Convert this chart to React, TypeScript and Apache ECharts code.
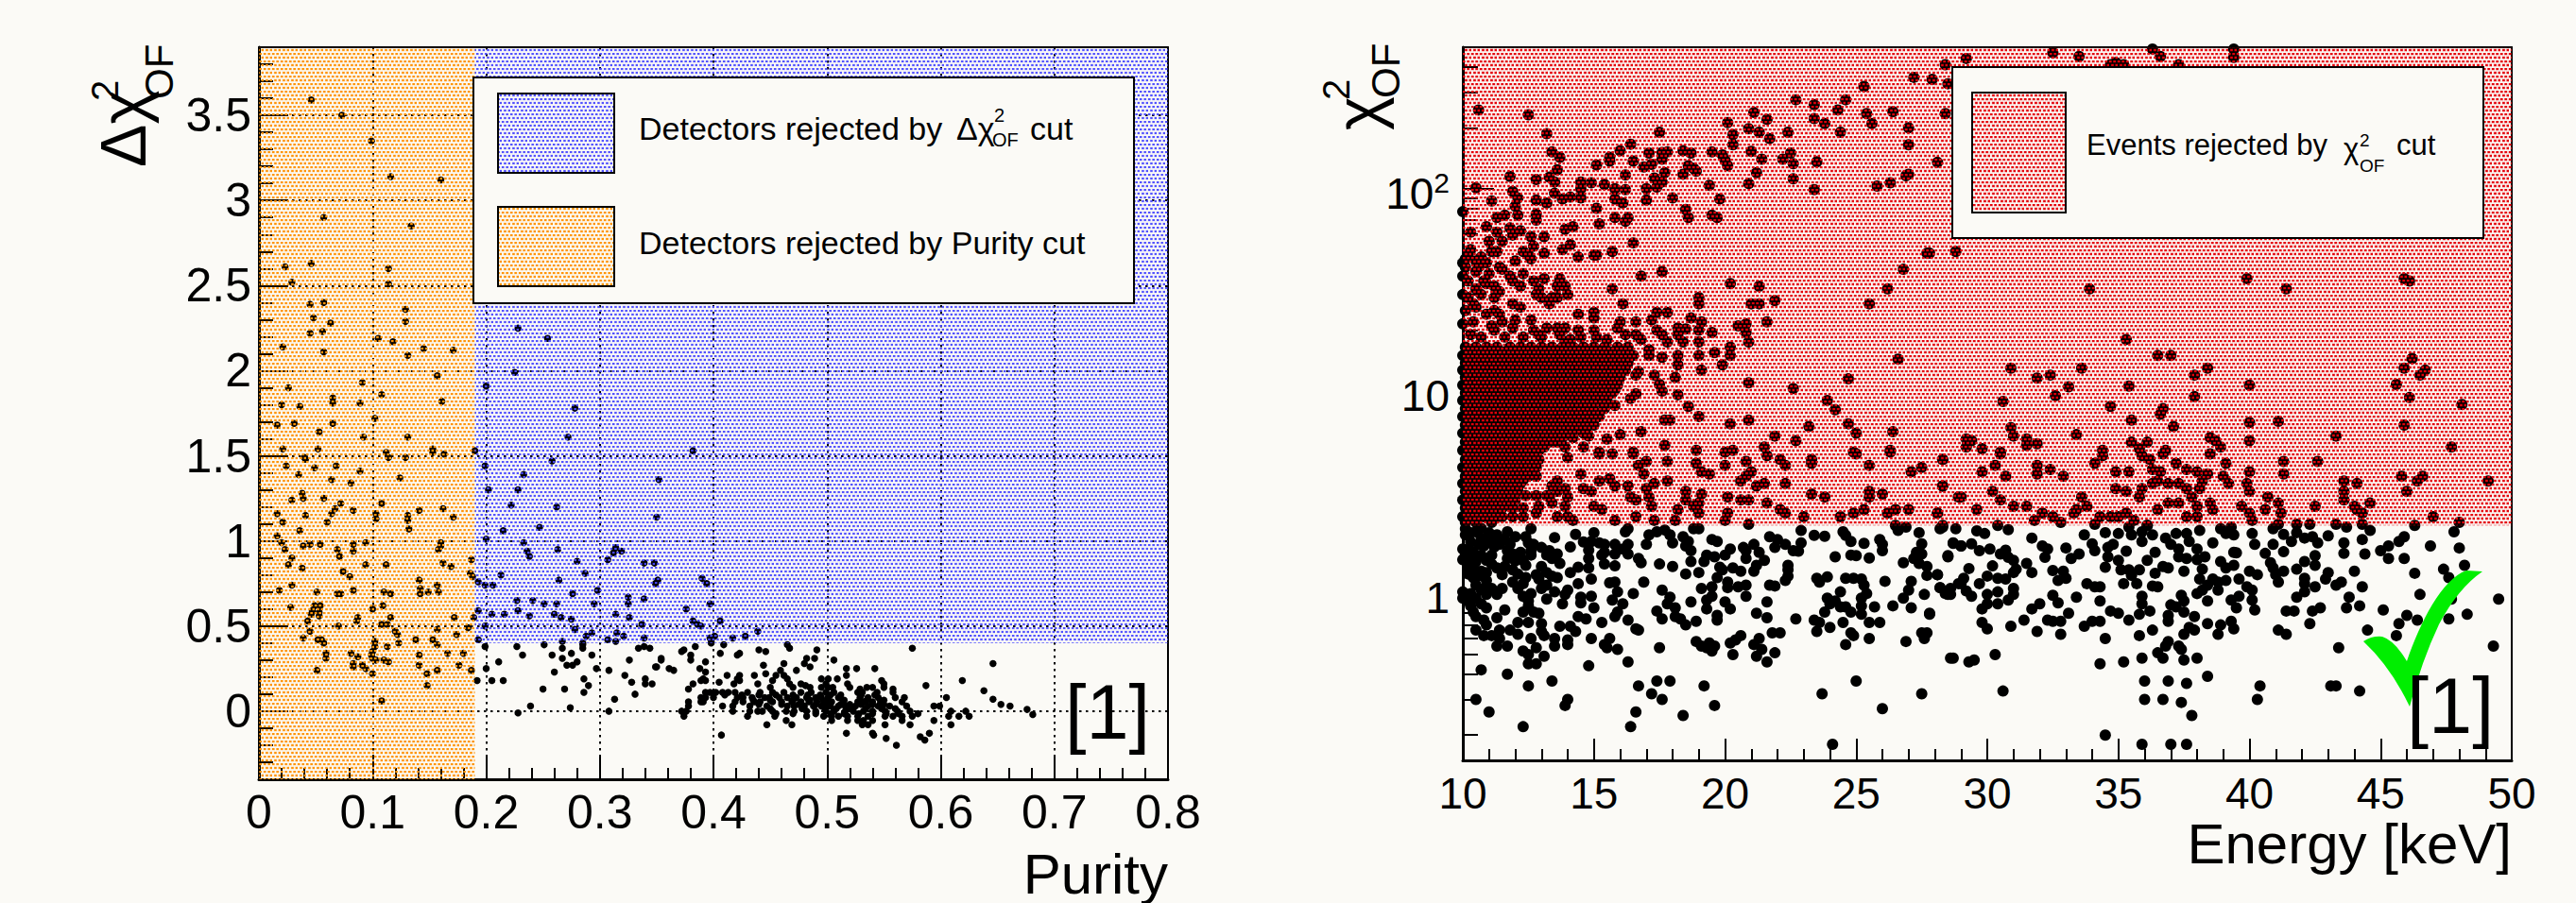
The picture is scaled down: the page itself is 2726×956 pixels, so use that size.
import React, { useEffect, useRef } from "react";
import * as echarts from "echarts";

const FONT = "Liberation Sans";
const PAGE = "#fbfaf6";

// ---------- left panel: purity / delta chi2 ----------
const purityTicks = [0, 0.5, 1, 1.5, 2, 2.5, 3, 3.5];
const orangeRegion = [[0, -0.4, 0.19, 3.9]];
const blueRegion = [[0.19, 0.4, 0.8, 3.9]];

const detectorsOrange = [[.046,3.59],[.073,3.5],[.099,3.35],[.116,3.14],[.16,3.12],[.057,2.9],[.134,2.85],[.023,2.61],[.046,2.63],[.114,2.6],[.029,2.52],[.114,2.51],[.045,2.39],[.057,2.4],[.129,2.36],[.048,2.31],[.129,2.29],[.063,2.28],[.056,2.23],[.045,2.22],[.105,2.19],[.118,2.17],[.021,2.14],[.145,2.13],[.171,2.12],[.057,2.11],[.131,2.09],[.157,1.97],[.091,1.93],[.026,1.9],[.108,1.86],[.065,1.84],[.065,1.81],[.089,1.81],[.02,1.8],[.036,1.79],[.161,1.82],[.102,1.72],[.016,1.68],[.031,1.69],[.065,1.69],[.053,1.64],[.092,1.61],[.131,1.61],[.021,1.54],[.052,1.54],[.153,1.54],[.112,1.52],[.19,1.53],
[.04,1.49],[.041,1.48],[.024,1.44],[.035,1.39],[.049,1.43],[.068,1.44],[.089,1.41],[.064,1.36],[.081,1.34],[.124,1.37],[.114,1.49],[.129,1.49],[.153,1.52],[.163,1.51],[.038,1.28],[.039,1.25],[.029,1.24],[.057,1.25],[.072,1.22],[.108,1.22],[.067,1.19],[.064,1.16],[.083,1.18],[.141,1.18],[.162,1.19],[.016,1.16],[.041,1.15],[.103,1.16],[.103,1.13],[.131,1.15],[.131,1.12],[.171,1.14],[.06,1.11],[.021,1.11],[.132,1.07],[.036,1.06],[.016,1.03],[.02,.99],[.16,.99],[.094,.99],[.083,.98],[.039,.97],[.045,.98],[.054,.98],[.16,.97],[.158,.95],[.023,.95],[.069,.95],[.083,.94],[.071,.91],[.029,.9],[.026,.86],[.038,.84],[.112,.86],[.094,.86],[.162,.87],[.169,.85],[.187,.89],[.074,.82],[.08,.79],[.186,.81],[.188,.79],[.141,.77],[.157,.74],[.142,.72],[.029,.74],[.018,.71],[.051,.7],[.072,.69],[.069,.69],[.083,.71],[.11,.7],[.116,.69],[.142,.69],[.149,.7],[.158,.7],[.028,.61],[.049,.62],[.054,.62],[.047,.59],[.046,.57],[.053,.58],[.053,.56],[.109,.62],[.1,.6],[.116,.55],[.087,.55],[.086,.53],[.043,.53],[.108,.51],[.113,.51],[.07,.5],[.172,.55],[.189,.55],[.184,.49],[.157,.48],[.045,.47],[.12,.47],[.122,.45],[.174,.45],[.039,.43],[.052,.42],[.055,.42],[.057,.4],[.138,.42],[.153,.42],[.157,.39],[.102,.41],[.102,.38],[.123,.4],[.113,.38],[.1,.35],[.081,.34],[.099,.33],[.1,.31],[.059,.34],[.059,.31],[.087,.32],[.103,.3],[.11,.3],[.114,.29],[.141,.33],[.166,.34],[.18,.34],[.083,.28],[.083,.26],[.091,.27],[.094,.25],[.1,.22],[.051,.24],[.141,.27],[.176,.27],[.157,.24],[.148,.22],[.187,.24],[.148,.15],[.108,.06]];

const detectorsBlue = [[.228,2.25],[.254,2.19],[.225,1.99],[.2,1.91],[.278,1.78],[.272,1.61],[.199,1.44],[.258,1.47],[.233,1.39],[.352,1.36],[.202,1.3],[.228,1.3],[.222,1.21],[.262,1.2],[.35,1.14],[.215,1.06],[.247,1.08],[.2,1.01],[.233,.99],[.236,.94],[.238,.91],[.263,.95],[.314,.96],[.319,.94],[.312,.93],[.307,.89],[.28,.88],[.339,.87],[.348,.87],[.287,.81],[.213,.8],[.264,.77],[.351,.77],[.349,.75],[.193,.76],[.199,.74],[.206,.74],[.298,.71],[.276,.69],[.227,.65],[.241,.65],[.251,.63],[.262,.63],[.295,.63],[.325,.67],[.325,.63],[.339,.66],[.193,.59],[.205,.57],[.216,.57],[.228,.59],[.238,.56],[.26,.57],[.266,.55],[.275,.54],[.314,.57],[.326,.55],[.199,.5],[.278,.48],[.337,.51],[.315,.46],[.321,.44],[.293,.46],[.288,.44],[.193,.42],[.267,.41],[.285,.4],[.307,.42],[.314,.41],[.339,.43],[.382,1.53],[.39,.78],[.394,.75],[.397,.63],[.376,.6],[.406,.53],[.382,.53],[.386,.51],[.389,.5],[.401,.44],[.397,.43],[.398,.41],[.417,.43],[.428,.44],[.439,.47]];

const detectorsKept = [[.199,.38],[.227,.38],[.251,.39],[.267,.37],[.285,.39],[.285,.37],[.232,.33],[.258,.33],[.275,.34],[.293,.33],[.267,.31],[.211,.29],[.28,.29],[.271,.27],[.276,.27],[.2,.25],[.297,.25],[.26,.23],[.308,.24],[.192,.18],[.205,.18],[.215,.18],[.286,.19],[.29,.15],[.25,.13],[.269,.13],[.286,.11],[.239,.03],[.274,.02],[.228,-.01],[.308,0],[.313,.07],[.326,.3],[.322,.21],[.328,.17],[.331,.1],[.34,.19],[.34,.16],[.346,.16],[.334,.37],[.339,.38],[.344,.37],[.35,.26],[.354,.3],[.384,.38],[.374,.36],[.372,.35],[.38,.33],[.38,.3],[.354,.31],[.349,.26],[.361,.25],[.365,.24],[.388,.25],[.393,.29],[.393,.23],[.391,.19],[.389,.18],[.393,.18],[.382,.16],[.378,.13],[.398,.4],[.409,.39],[.406,.34],[.421,.33],[.423,.34],[.44,.36],[.446,.35],[.465,.39],[.467,.37],[.491,.36],[.575,.37],[.489,.31],[.482,.31],[.48,.28],[.506,.3],[.444,.27],[.462,.28],[.485,.26],[.473,.24],[.517,.25],[.526,.25],[.542,.25],[.446,.22],[.436,.21],[.412,.21],[.423,.21],[.421,.19],[.459,.24],[.462,.21],[.455,.21],[.418,.16],[.423,.18],[.405,.17],[.452,.18],[.465,.19],[.467,.16],[.439,.16],[.495,.19],[.501,.19],[.509,.19],[.517,.21],[.518,.16],[.477,.16],[.481,.15],[.499,.16],[.501,.14],[.548,.18],[.55,.16],[.54,.14],[.558,.13],[.587,.15],[.619,.18],[.529,.13],[.531,.11],[.646,.28],[.638,.12],[.646,.07],[.653,.04],[.661,.03],[.676,.01],[.681,-.02],[.407,-.14],[.517,-.13],[.54,-.13],[.541,-.14],[.582,-.15],[.59,-.13],[.586,-.17],[.552,-.16],[.561,-.2]];

const clusterRows: [number, number[]][] = [
  [.14, [.45,.47,.485,.495,.505,.52,.535,.55]],
  [.11, [.393,.397,.402,.408,.413,.419,.43,.441,.452,.462,.477,.486,.499,.506,.527,.544,.558]],
  [.095, [.41,.425,.44,.455,.47,.483,.494,.503,.512,.53,.542]],
  [.08, [.389,.393,.4,.421,.426,.434,.445,.449,.458,.465,.473,.482,.49,.495,.501,.51,.529,.536,.545,.56,.568,.605]],
  [.065, [.435,.45,.47,.485,.5,.515,.535,.55]],
  [.055, [.378,.389,.391,.419,.426,.436,.441,.452,.46,.469,.477,.484,.491,.497,.504,.514,.527,.532,.54,.547,.566]],
  [.04, [.44,.46,.475,.49,.5,.512,.52,.53,.54,.55]],
  [.03, [.378,.408,.417,.432,.447,.465,.471,.48,.488,.495,.503,.51,.516,.525,.536,.545,.555,.57,.594,.599]],
  [.015, [.45,.478,.498,.508,.52,.534,.548,.56]],
  [0, [.372,.376,.417,.432,.439,.443,.452,.464,.471,.482,.49,.499,.506,.516,.523,.532,.54,.551,.562,.573,.609,.622]],
  [-.015, [.455,.47,.49,.503,.515,.528,.54,.552,.563,.58]],
  [-.03, [.374,.43,.454,.482,.497,.504,.51,.518,.527,.536,.551,.558,.566,.575,.607,.616,.625]],
  [-.055, [.464,.504,.518,.527,.532,.54,.566,.594]],
  [-.08, [.447,.469,.531,.536,.551,.573,.609]],
];

// ---------- right panel: energy / chi2 ----------
const chiRegion = [[10, 2.17, 50, 500]];
const energyMinorTicks = [0.2,0.3,0.4,0.5,0.6,0.7,0.8,0.9,2,3,4,5,6,7,8,9,20,30,40,50,60,70,80,90,200,300,400];

const eventsHigh = [[10.6,245],[12.5,232],[13.2,187],[17.5,190],[16.4,166],[16,154],[15.6,143],[15.6,137],[15.1,131],[16.5,137],[17.1,150],[17.6,151],[17.8,152],[17.6,140],[17.2,132],[16.9,128],[18.4,154],[18.7,150],[19.5,152],[19.9,147],[20,138],[20.1,130],[18.6,130],[18.8,126],[18.9,122],[17.7,120],[18.4,118],[16.2,117],[17.3,113],[17.6,108],[17.4,102],[17,100],[17,88],[18,90],[15.8,100],[16.2,99],[15.8,89],[16.1,85],[15.4,105],[14.9,107],[14.5,108],[14.5,100],[14.5,90],[14.1,91],[13.8,89],[13.5,95],[13.5,108],[13.3,114],[13.6,124],[13.7,143],[13.4,152],[12.8,111],[11.8,115],[10.5,101],[11.1,87],[11.9,97],[12.1,90],[12.8,88],[13.2,85],[15.1,80],[12,82],[12.1,74],[12.8,75],[12.8,70],[11.3,72],[11.6,74],[10,77],[19.4,104],[19.8,89],[20.9,106],[21.2,120],[18.5,79],[18.6,72],[19.5,74],[19.7,72],[15.8,72],[16.3,72],[16.2,69],[15.2,67],[14.2,65],[13.9,63],[10.9,65],[11.3,61],[10.3,61],[11.8,64],[12.2,62],[11.9,59],[13.1,58],[12.6,58],[16.5,54],[14.1,53],[13.8,50],[15.7,49],[12.7,52],[11,55],[11.5,55],[12.3,49],[12.5,47],[12.6,45],[13.1,48],[14.4,46],[15,47],[15.1,47],[12,44],[11.1,49],[11.3,49],[10.3,50],[10.1,45],[10.5,44],[10.9,43],[10.1,41],[10,37],[10.5,39],[11,38],[11.4,41],[11.5,40],[11.8,37],[11.9,35],[12.3,38],[12.2,33],[12.7,35],[13.1,36],[13.7,36],[13.9,33],[13.6,33],[14,30],[13.4,29],[13.6,29],[13.3,27],[13,29],[12.8,30],[12.9,32],[10.5,32],[10.7,30],[10,30],[10.2,29],[11.4,31],[11.2,29],[11.9,27],[12.2,26],[16.8,37],[17.6,39],[15.7,32],[20.2,34],[21.3,33],[19,29],[19,27],[21,27],[21.3,27],[21.9,28],[16.1,27],[25.5,27],[26.2,32],[26.8,40],[27.7,48],[28.8,49],
[10.2,47],[10.7,46],[10.2,35],[10.8,35],[10.4,27],[10.9,34],[10,43],[11.2,33],[10.6,41],
[28.4,410],[27.2,355],[27.9,347],[28.5,330],[25.3,320],[22.7,275],[23.4,260],[24.6,275],[24.3,245],[25.4,235],[26.4,240],[28.4,235],[21.1,238],[21.6,220],[23.4,222],[23.8,210],[25.6,210],[27,200],[20.1,212],[20.9,198],[21.3,190],[22.4,190],[20.3,185],[21.7,177],[24.4,190],[20.3,165],[27,165],[21,153],[22.5,150],[21.4,140],[22.2,140],[22.6,133],[23.5,136],[28.1,135],[27,118],[26.9,116],[22.6,112],[26.3,107],[25.8,103],[23.4,99],
[32.5,470],[33.5,450],[36.3,490],[36.6,450],[39.4,490],[39.4,445],[29.2,440],[34.9,420],[34.7,410],[35.2,410],[37.3,410],[27.8,48],[39.9,36],[41.4,32],[33.9,32],[45.9,36],[46.1,35]];

const eventsMid = [[35.3,18],[36.5,15],[37,15],[38.4,13],[37.9,12],[30.9,13],[32.4,12],[33.6,13],[31.9,11.6],[33.1,10.5],[35.4,10.6],[40,10.7],[46.2,14.5],[45.9,13],[46.7,12.7],[46.5,12],[45.6,10.8],[37.9,9.4],[32.6,9.5],[30.6,8.9],[46.1,9.3],[48.1,8.6],[34.7,8.4],[36.7,8.2],[36.6,7.7],[35.5,7.2],[37.1,6.7],[40,7],[41.1,7.1],[45.9,6.8],[30.9,6.6],[31,6],[33.4,6.1],[43.3,6],[31.5,5.8],[31.5,5.4],[31.9,5.5],[29.2,5.8],[29.4,5.7],[29.2,5.3],[29.8,5.2],[30.5,5],[35.5,5.6],[36.1,5.6],[35.8,5.2],[38.5,5.9],[38.7,5.7],[38.9,5.3],[40,5.7],[47.7,5.3],[34.4,5.1],[36.8,5.1],
[14.4,24],[15,24.5],[15,23],[16,22],[16.6,22],[17.4,24.5],[17.8,24.5],[18.7,23],[19.1,22],[17.2,22.5],[17.4,20],[17.6,19],[18.2,20.5],[18.5,20.3],[18.2,19],[18.4,17.5],[19,20],[19.5,19.5],[19,17.5],[20.5,21],[20.8,21.5],[20.8,19.5],[20.9,17.5],[21.6,22],[17.8,17.5],[17.1,16],[17.1,15],[17.6,14.7],[18.2,15],[18.2,13.5],[19,15],[19.6,15.5],[20.2,16.5],[20.2,15],[19.9,13.5],[19.1,12.7],[16.7,12.5],[16.6,12],[17.3,12],[18.1,11.7],[17.5,10.8],[17.6,10],[16.6,9.7],[16.4,9.2],[18.2,9.6],[20.9,11],[22.6,10.3],[24.7,11.5],[23.9,9],[24.2,8.1],[26.6,14.4],[18.6,8.4],[19,7.5],[17.7,7.2],[17.9,7.2],[20.2,6.9],[20.9,7.2],[23.2,6.7],[24.7,6.9],[25,6.2],[26.4,6.3],[21.9,6],[22.7,5.7],[16.8,6.3],[16,6.1],[15.5,5.8],[17.7,5.4],[18.9,5.1],[21.5,5.3],[20.3,5.1],[20,5],[24.9,5],[26.3,5.1],[16.5,5],[15.2,5],[14.6,5.3],[13.9,5.3],[14.8,6],[15.8,8.5],[15.8,10.2],
[10.1,25],[10.5,26],[10.9,24],[11.2,25],[11.4,24],[10,21.5],[10.4,22],[11.1,21],[11.5,22],[12,22.5],[12.6,22.5],[12.7,20],[13.2,20.5],[13.6,20.5],[13.9,20.5],[14.4,20],[15,20],[15.1,18.5],[15.9,20.5],[16.2,19],[16.6,19],[16.8,18],[14.5,18.5],[13.7,19],[13,18.5],[11.2,20],[11.9,20.5],[13.9,17.5],[10.3,19],[10.7,18.5],[11.6,18.5],[12.3,18.5],[12.9,19],[14.1,18],[15.5,18]];

const eventsBand = [[28.3,4.6],[30.5,4.9],[30.3,4.3],[29.8,4],[30.7,3.8],[31.9,4.3],[31.9,3.9],[32.4,4.1],[32.9,3.8],[28.3,3.4],[30.2,3.2],[28.9,3],[30.5,2.9],[31,2.7],[31.5,2.7],[29.6,2.6],[28.1,2.5],[34.1,4.4],[34.4,4.8],[34.9,4],[35.4,4],[33.6,3],[34.9,3.3],[35.3,3.2],[33.4,2.6],[33.8,2.7],[35.9,3.3],[35.8,3],[36.3,3.5],[36.5,3.6],[36.9,3.5],[37.3,3.5],[37.6,3.3],[37.8,3],[38.1,3.3],[38.2,3.6],[38.4,3.9],[38,4],[37.6,4.1],[39,3.8],[39.2,3.5],[39.9,3.5],[40,3.2],[40,4],[39.1,4.4],[41.3,4.5],[41.3,3.9],[42.6,4.5],[37.2,4.4],[36.3,4.1],[36.6,4],[35.9,4.8],[36.2,4.6],[36.7,4.9],[38.5,4.9],[36.5,2.6],[36.9,2.8],[37.3,2.8],[38.5,2.8],[38.6,2.6],[38,2.7],[37.6,2.4],[38,2.4],[39.7,2.7],[40,2.5],[40.1,2.3],[40.7,3],[40.6,2.6],[41.1,2.8],[41.2,2.5],[41.1,2.2],[42.5,2.7],[41.8,2.2],[42.3,2.2],[43.3,2.2],[44.3,2.2],[43.6,3.6],[44.1,3.5],[43.6,3.2],[43.6,2.9],[44.6,2.8],[44,2.7],[44.1,2.6],[44.3,2.5],[45.8,3.8],[46.6,3.8],[46.4,3.6],[46,3.2],[49.1,3.6],[47,2.4],[46.3,2.17],[48,2.25],[31.8,2.3],[32.1,2.5],[32.5,2.4],[32.8,2.25],[33.3,2.5],[34.1,2.2],[34.3,2.4],[34.7,2.4],[35,2.4],[35.3,2.5],[35.6,2.3],[36.1,2.17],[28.3,2.17],
[14,4.7],[15.2,4.9],[15.7,4.9],[16.5,4.9],[17,4.5],[16.7,4.3],[16.9,3.9],[17.8,4.5],[14.5,3.9],[15.2,3.6],[15.6,3.7],[15.8,3.4],[17.8,3.6],[17.3,3.5],[17,3.3],[16.3,3.4],[17.1,3],[16.4,3],[16.6,2.9],[13.6,3.6],[13.4,3.4],[14.6,3.3],[14.9,3.2],[13.9,3.3],[13.6,3.2],[13.3,3],[14,3],[13.9,2.7],[13.4,2.8],[12.9,2.7],[12.8,2.5],[13.6,2.4],[14,2.4],[14.2,2.3],[15,2.7],[15.3,2.6],[15.8,2.3],[16.6,2.4],[17.3,2.3],[17.2,2.7],[18.2,2.6],[18.5,2.9],[19,2.5],[19,2.8],[19.1,3.1],[18.5,3.2],[18.8,2.7],[18.1,2.3],[18.9,4.4],[19.1,4],[19.4,3.9],[20,4.3],[20.8,4.5],[21,4],[20.8,3.8],[20.6,3.6],[21.2,3.4],[21.5,3.5],[22.3,4.3],[22.1,4.6],[21.6,4.8],[23.3,4.6],[22.3,3.5],[20.1,3],[20.6,2.9],[20.9,2.9],[21.6,2.8],[20.1,2.5],[20,2.3],[20.9,2.2],[22.1,2.6],[22.3,2.5],[23,2.4],[23.3,3.1],[23.8,3],[25.5,4.3],[27.1,4],[27.5,4.2],[28.3,4.6],[28.3,3.4],[25.5,3.2],[25.5,3],[26,3.1],[25.3,2.6],[24.9,2.5],[24.4,2.4],[26.5,2.6],[26.2,2.5],[27,2.6],[28.1,2.5],[29,3],[25,4.9],[26.3,5],[23.3,4.4]];

const blockRows: [number, number[]][] = [
  [16.5, [10.1,10.5,10.9,11.3,11.8,12.2,12.6,13,13.4,13.8,14.2,14.6,15,15.4,15.9,16.3]],
  [15.7, [10.3,10.7,11.1,11.6,12,12.4,12.8,13.2,13.6,14,14.4,14.8,15.2,15.6,16.1]],
  [15, [10,10.4,10.8,11.2,11.6,12.1,12.5,12.9,13.3,13.7,14.1,14.5,14.9,15.3,15.7,16.1,16.5]],
  [14.4, [10.2,10.6,11,11.4,11.9,12.3,12.7,13.1,13.5,13.9,14.3,14.7,15.1,15.5,15.9,16.3]],
  [13.8, [10.1,10.5,10.9,11.3,11.7,12.1,12.5,12.9,13.4,13.8,14.2,14.6,15,15.4,15.8,16.3]],
  [13.2, [10.3,10.7,11.1,11.5,11.9,12.3,12.7,13.1,13.6,14,14.4,14.8,15.2,15.6,16]],
  [12.7, [10,10.4,10.8,11.2,11.6,12,12.5,12.9,13.3,13.7,14.1,14.5,14.9,15.3,15.7,16.2]],
  [12.2, [10.2,10.6,11,11.4,11.8,12.3,12.7,13.1,13.5,13.9,14.3,14.7,15.1,15.5,15.9]],
  [11.7, [10.1,10.5,10.9,11.3,11.7,12.1,12.5,12.9,13.3,13.7,14.1,14.5,14.9,15.3,15.7,16]],
  [11.2, [10.3,10.7,11.1,11.5,11.9,12.3,12.7,13.1,13.5,13.9,14.3,14.7,15.1,15.5,15.8]],
  [10.7, [10,10.4,10.8,11.2,11.6,12,12.4,12.8,13.2,13.6,14,14.4,14.8,15.2,15.6,15.9]],
  [10.2, [10.2,10.6,11,11.4,11.8,12.2,12.6,13,13.4,13.8,14.2,14.6,15,15.4,15.8]],
  [9.8, [10.1,10.5,10.9,11.3,11.7,12.1,12.5,12.9,13.3,13.7,14.1,14.5,14.9,15.3,15.7]],
  [9.4, [10.3,10.7,11.1,11.5,11.9,12.3,12.7,13.1,13.5,13.9,14.3,14.7,15.1,15.5]],
  [9, [10,10.4,10.8,11.2,11.6,12,12.4,12.8,13.2,13.6,14,14.4,14.8,15.2,15.5]],
  [8.6, [10.2,10.6,11,11.4,11.8,12.2,12.6,13,13.4,13.8,14.2,14.6,15,15.4]],
  [8.2, [10.1,10.5,10.9,11.3,11.7,12.1,12.5,12.9,13.3,13.7,14.1,14.5,14.9,15.4]],
  [7.8, [10.3,10.7,11.1,11.5,11.9,12.3,12.7,13.1,13.5,13.9,14.3,14.7,15.1]],
  [7.5, [10,10.4,10.8,11.2,11.6,12,12.4,12.8,13.2,13.6,14,14.4,14.8,15.2]],
  [7.1, [10.2,10.6,11,11.4,11.8,12.2,12.6,13,13.4,13.8,14.2,14.6,14.9]],
  [6.8, [10.1,10.5,10.9,11.3,11.7,12.1,12.5,12.9,13.3,13.7,14.1,14.5,15]],
  [6.5, [10.3,10.7,11.1,11.5,11.9,12.3,12.7,13.1,13.5,13.9,14.3,14.7]],
  [6.2, [10,10.4,10.8,11.2,11.6,12,12.4,12.8,13.2,13.6,14,14.6]],
  [5.9, [10.2,10.6,11,11.4,11.8,12.2,12.6,13,13.4,13.8,14.2]],
  [5.6, [10.1,10.5,10.9,11.3,11.7,12.1,12.5,12.9,13.3,13.6]],
  [5.3, [10.3,10.7,11.1,11.5,11.9,12.3,12.7,13.1]],
  [5.1, [10,10.4,10.8,11.2,11.6,12,12.4,12.9]],
  [4.8, [10.2,10.6,11,11.4,11.8,12.2,12.6]],
  [4.6, [10.1,10.5,10.9,11.3,11.7,12.1,12.5,12.9]],
  [4.4, [10.3,10.7,11.1,11.5,11.9,12.3,12.7]],
  [4.2, [10,10.4,10.8,11.2,11.6,12,12.4,12.8]],
  [4, [10.2,10.6,11,11.4,11.8,12.2,12.6]],
  [3.8, [10.1,10.5,10.9,11.3,11.7,12.1,12.5,12.8]],
  [3.65, [10.3,10.7,11.1,11.5,11.9,12.3]],
  [3.5, [10,10.4,10.8,11.2,11.6,11.9,12.2]],
  [3.35, [10.2,10.6,11,11.4,11.8,12.1]],
  [3.2, [10.1,10.5,10.9,11.3,11.7,12.1]],
  [3.05, [10.3,10.7,11.1,11.5,11.9,12.4,12.8,13.2]],
  [2.9, [10,10.4,10.8,11.2,11.6,12]],
  [2.75, [10.2,10.6,11,11.4,11.7]],
  [2.65, [10.1,10.5,10.9,11.3,11.5,11.9,12.3]],
  [2.5, [10.3,10.7,11.1]],
  [2.4, [10,10.4,10.8,11.3,11.5,11.9,12.3]],
  [2.25, [10.1,10.5,11.1]],
];

const eventsLow = [[10.1,1.95],[10.1,2.09],[10.5,2.02],[10.7,1.88],[10.9,1.78],[11.1,1.81],[10.8,1.72],[10,1.66],[10.2,1.63],[10.4,1.6],[10,1.47],[10.3,1.46],[10.5,1.44],[10.9,1.46],[10.2,1.38],[10.4,1.34],[10.7,1.29],[10.9,1.27],[10.6,1.22],[10.9,1.16],[11.1,1.06],[10.8,1.06],[10.9,.99],[10,1.02],[10,.95],[10.2,.92],[10.3,.87],[10.7,.89],[10.9,.85],[10.4,.81],[10.5,.77],[10.8,.74],[10.5,.66],[10.8,.62],[11.1,.62],[10.9,.7],[11.3,.76],[11.4,.66],[11.4,.6],[11.7,.55],[11.3,.55],[11.6,.83],[11.7,2.02],[12,1.91],[11.6,1.85],[11.4,1.75],[11.8,1.75],[11.7,1.63],[11.9,1.57],[11.7,1.49],[12.2,1.6],[11.3,1.34],[11.6,1.36],[11.9,1.31],[12.3,1.46],[12.4,1.38],[11.5,1.24],[11.9,1.14],[12.4,1.2],[12.3,1.12],[11.5,1.06],[11.3,.99],[12.1,1.06],[12.3,.97],[12.6,1],[12.5,.92],[12.5,.87],[12.7,.81],[12.9,.8],[12.3,.81],[12.1,.72],[12.5,.72],[11.8,.66],[12.1,.63],[13,.71],[13,.65],[13.1,.62],[12.6,.6],[12.8,.54],[12.3,.52],[12.5,.5],[13.1,.49],[12.5,.45],[12.8,.45],[12.6,2.09],[12.4,1.91],[12.5,1.78],[12.7,1.75],[12.6,1.63],[13,1.69],[13.3,1.63],[13.6,1.57],[13.2,1.55],[13.4,1.49],[13.7,1.41],[13.5,1.89],[14.1,1.7],[13,1.36],[13.2,1.27],[12.8,1.24],[12.9,1.18],[13.4,1.22],[13.6,1.2],[14.1,1.27],[14.4,1.35],[13.2,1.1],[13.5,1.02],[13.2,.94],[13.8,.89],[14,1.04],[13.9,.99],[14.4,1.12],[13,1.06],[14.3,1.96],[15,2],[14.6,1.8],[14.9,1.81],[15.2,1.78],[15.4,1.75],[15.4,1.6],[14.8,1.64],[14.8,1.49],[15.3,1.55],[15.8,1.57],[15.8,1.75],[16.3,1.75],[16.1,1.66],[16.3,1.57],[16.7,1.49],[16.8,1.42],[15.4,1.4],[15.8,1.37],[14.8,1.34],[14.9,1.18],[15.6,1.13],[15.8,1.14],[16.9,1.14],[15.9,1.02],[15.7,.93],[16.5,1],[14.9,.97],[14.5,.96],[14.5,.9],[15,.85],[16.1,.89],[15.9,.81],[15.8,.77],[14.4,.77],[14.7,.75],[15.3,.72],[16.3,.74],[16.7,.66],[16.6,.67],[13.7,.69],[14.1,.69],[14.3,.65],[13.5,.6],[13.5,.55],[14,.59],[14,.56],[14.9,.6],[15.6,.6],[15.4,.56],[15.5,.54],[15.9,.53],[16.3,.46],[14.8,.44],[10.7,.42],[11.7,.4],[13.4,.37],[12.5,.35],[10.5,.3],[11,.26],[12.3,.22],[14,.3],[13.9,.28],[16.7,.35],[17.4,.37],[17.9,.37],[17.2,.32],[17.6,.3],[16.6,.26],[16.4,.22],[18.4,.25],[19.2,.35],[19.6,.28],[17.5,.54],[24.1,.18],[23.7,.32],[25,.37],[26,.27],[27.5,.32],[28.7,.48],
[10.3,2],[10.7,2.1],[11,2],[11.3,1.95],[10.3,1.8],[10.6,1.75],[11.2,1.7],[10.1,1.55],[10.7,1.55],[11.1,1.55],[10.2,1.25],[10.4,1.2],[10.5,1.1],[10.7,1.05],[10.3,1],[10.5,.95],[12,1.45],[12.1,1.25],[12.6,1.55],[11.1,1.4],
[16.2,2.02],[16.3,2.09],[17,1.75],[17.1,1.95],[17.4,2.02],[17.7,2.06],[17.9,1.95],[18,1.78],[18.4,1.91],[18.6,1.81],[18.5,1.72],[18.7,1.63],[18.7,1.44],[17.5,1.4],[18,1.36],[18.5,1.25],[19,1.27],[19,2.09],[18.8,2.09],[19.5,1.85],[19.7,1.81],[19.3,1.55],[19.2,1.44],[19.6,1.52],[20,1.55],[20.2,1.66],[20.7,1.69],[21.1,1.75],[20.8,1.63],[21.3,1.6],[20.8,1.49],[21.5,1.46],[21.2,1.38],[21.1,1.29],[19.8,1.35],[19.9,1.31],[20.3,1.34],[20.6,1.29],[19.7,1.2],[20.1,1.14],[20.1,1.07],[20.5,1.08],[20.8,1.1],[20.8,.97],[19.1,1.06],[19.5,1.08],[19.5,.97],[19.3,.93],[17.6,1.04],[17.9,.96],[17.8,.89],[18.1,.85],[18.7,.91],[20,.91],[20.2,.84],[19.3,.84],[17.4,.82],[17.6,.75],[18.1,.77],[18.3,.75],[18.5,.7],[18.9,.73],[19.7,.78],[19.7,.74],[21.2,.8],[21.6,.91],[21.6,.76],[18.9,.58],[19.1,.55],[19.4,.57],[19.6,.55],[19.3,.54],[19.5,.52],[20.2,.57],[20.4,.59],[20.6,.62],[20.3,.5],[21.3,.6],[21.1,.56],[21.4,.53],[21.2,.49],[21.6,.46],[21.9,.51],[21.8,.64],[22.1,.64],[21.7,1.91],[22,1.85],[21.9,1.69],[22.3,1.75],[22.6,1.63],[22.9,1.78],[22.8,1.62],[22.9,2.05],[22.4,1.38],[22.4,1.31],[22.4,1.22],[22.3,1.16],[21.7,1.1],[21.9,1.09],[22.7,.75],[23.4,1.94],[23.8,1.92],[24.2,1.52],[24.5,2.02],[24.6,1.94],[24.8,1.81],[24.8,1.55],[25,1.54],[25.3,1.77],[25.5,1.5],[23.5,1.19],[23.6,1.14],[23.9,1.21],[24.6,1.19],[24.9,1.19],[25.2,1.18],[25.3,1.1],[24.4,1.02],[25.4,1],[23.9,.95],[24.2,.92],[24,.89],[24.4,.86],[24.6,.86],[25.2,.95],[25.2,.87],[25.7,.86],[23.8,.81],[24.8,.81],[25.2,.79],[23.4,.74],[23.6,.72],[25.5,.72],[25.9,.72],[23.5,.65],[24,.68],[24.5,.72],[24.8,.64],[24.9,.62],[25.5,.6],[24.6,.56],[25.9,1.85],[26,1.75],[26,1.63],[26.5,2.17],[26.6,2.05],[26.9,2.13],[27.4,2],[27.5,1.76],[27.3,1.6],[27.5,1.57],[27.2,1.49],[27.4,1.41],[26.8,1.42],[27.7,1.36],[26.1,1.15],[27.7,1.23],[28.1,1.24],[27.1,1.15],[27,1.04],[26.8,.95],[27.6,.99],[26.4,.87],[27.1,.85],[27.8,.79],[28.5,1.52],[28.2,2.09],[28.7,1.78],[29,1.72],[28.2,1.07],[28.5,.99],[28.6,1.06],[29,1.12],[27.5,.64],[27.7,.64],[27.6,.6],[26.9,.58],
[28.3,2.13],[28.8,2.09],[29.6,2.04],[29.9,1.98],[30.4,2.17],[30.8,2.07],[28.7,1.77],[29,1.72],[29.4,1.76],[29.7,1.63],[30.1,1.66],[30.7,1.64],[30.5,1.57],[28.5,1.54],[30.8,1.51],[31,1.46],[30.2,1.37],[29.3,1.33],[31.1,1.32],[31,1.27],[30,1.22],[30.4,1.19],[30.7,1.18],[28.1,1.24],[29.1,1.19],[29.7,1.12],[28.9,1.12],[30.4,1.02],[30,.99],[31,1.06],[31,.99],[28.2,1.07],[28.4,1],[28.6,.99],[29.2,1.03],[29.4,.97],[30.8,.93],[30.4,.89],[30,.89],[29.8,.84],[27.8,.8],[29.8,.72],[30,.67],[30.9,.69],[31.7,1.88],[32.1,1.72],[32.3,1.66],[32.2,1.51],[31.5,1.41],[31.7,1.27],[33,1.68],[33.2,1.49],[33.5,1.57],[32.5,1.3],[32.9,1.29],[33,1.19],[32.7,1.16],[32.5,.98],[32.7,.9],[33.4,.96],[32,.89],[31.7,.84],[33.1,.8],[31.4,.74],[32.3,.74],[32.5,.73],[32.8,.73],[31.9,.65],[32.8,.63],[33.7,1.95],[34,1.76],[34.1,1.63],[34.6,1.69],[34.5,2],[35,1.98],[34.8,1.75],[34.6,1.52],[35,1.46],[35.3,1.62],[34.5,1.35],[33.8,1.12],[34.1,1.08],[34.3,1.08],[35.1,1.31],[35.4,1.31],[35.8,1.31],[35.5,1.23],[35.2,1.12],[35.7,1.12],[34.3,.92],[34.7,.82],[35,.8],[35.4,.74],[34,.73],[34.3,.73],[33.7,.69],[34.5,.6],[35.8,.62],[36.3,.66],[36.2,.82],[35.8,.79],[35.9,.89],[35.9,.97],[36.4,1.26],[36.3,1.09],[36.5,1.08],[36.9,1.34],[36.7,1.36],[36.1,1.46],[36.4,1.6],[35.9,1.81],[35.5,1.95],[35.9,2.02],[36.3,1.95],[35.4,2.13],[36.1,2.17],[36.8,1.88],[37.2,1.98],[37,1.75],[37.3,1.66],[37.3,1.52],[37.6,1.98],[37.7,1.81],[38,1.66],[37.6,1.49],[38,1.47],[38.3,1.52],[38.1,2.05],[37.5,1.29],[38.2,1.32],[38.6,1.78],[37.4,.98],[37.5,.92],[37.5,.81],[37,.88],[37.2,.86],[36.9,.78],[36.9,.73],[37.9,.77],[37.7,.68],[37.9,.66],[37.5,.63],[38.4,.71],[38.9,.7],[38.8,.63],[39.3,.73],[39.4,.67],[36.8,.55],[36.9,.58],[37.3,.55],[37.4,.53],[36.5,.51],[36.7,.48],[37.5,.47],[38,.48],[35.9,.48],[35.2,.46],[34.3,.45],[28.6,.48],[29.3,.46],[29.5,.47],[30.3,.5],[36,.37],[36.9,.37],[37.6,.36],[38.4,.39],[40.4,.35],[40.3,.3],[36,.3],[36.7,.3],[37.4,.29],[37.8,.25],[30.6,.33],[34.5,.2],[35.9,.18],[37,.18],[37.6,.18],[43.1,.35],[43.3,.35],[44.2,.33],[43.4,.54],[49.3,.55],[49.5,.94],
[38.9,2.09],[39.3,2.13],[39.1,1.98],[39.4,1.95],[40.1,1.98],[40.2,1.75],[40.9,2.09],[41.3,1.96],[41.6,1.81],[40.9,1.75],[40.6,1.58],[41.3,1.61],[41.8,2],[42.1,1.88],[42.4,1.91],[42.6,1.78],[43,1.93],[43.7,2.13],[43.6,1.78],[43.6,1.58],[44.3,1.85],[44.4,1.57],[44.6,2.05],[39.4,1.6],[39.5,1.59],[38.9,1.44],[39.4,1.38],[39.1,1.34],[40.8,1.42],[40.9,1.34],[41.3,1.29],[41.8,1.32],[42.1,1.44],[42.5,1.54],[42.5,1.38],[41,1.24],[41.1,1.14],[43,1.27],[42.9,1.18],[44,1.29],[43.5,1.14],[43.3,1.1],[42.1,1.19],[42.1,1.12],[42.5,1.08],[42.1,1.02],[41.8,.96],[38.1,1.18],[38.2,1.04],[38.6,1.18],[38.8,1.14],[38.4,1.1],[38,1],[38.4,.92],[38.8,1.04],[39.1,1.16],[39.6,1.18],[40,1.29],[40.3,1.24],[39.9,1.08],[40.1,1.04],[39.3,.93],[39.6,.97],[39.5,.85],[40.1,.93],[40.2,.83],[41.4,.82],[41.7,.82],[42.4,.82],[42.7,.85],[43.7,.85],[44.2,.87],[43.8,.96],[44.3,1.08],[41.1,.66],[41.4,.63],[42.3,.71],[45,1.63],[45.3,1.72],[45.3,1.49],[45.9,1.49],[45.7,1.81],[45.9,1.91],[46.9,1.72],[46.3,1.26],[47.4,1.32],[46.5,.99],[47.8,2.02],[48,1.68],[48.2,1.38],[47.6,1.2],[47.7,.94],[47.6,.75],[48.3,.79],[45.1,.83],[46,.78],[46.4,.74],[45.7,.71],[45.6,.62],[44.5,.66]];

const rowsToPoints = (rows: [number, number[]][]) =>
  rows.flatMap(([v, list]) => list.map((u) => [u, v]));

const leftPoints = [...detectorsOrange, ...detectorsBlue, ...detectorsKept, ...rowsToPoints(clusterRows)];
const rightPoints = [...eventsHigh, ...eventsMid, ...eventsBand, ...eventsLow, ...rowsToPoints(blockRows)];

function hatch(color: string, halo: number, core: number) {
  const c = document.createElement("canvas");
  c.width = 9;
  c.height = 8;
  const g = c.getContext("2d")!;
  const dots = [[0, 0], [4.5, 0], [2.25, 4], [6.75, 4], [9, 0], [9, 4]];
  dots.forEach(([x, y]) => {
    g.fillStyle = color;
    g.globalAlpha = halo;
    g.fillRect(x - 0.5, y - 0.5, 3.4, 3);
    g.globalAlpha = core;
    g.fillRect(x, y, 2.4, 2);
  });
  return { image: c.toDataURL(), repeat: "repeat", imageWidth: 9, imageHeight: 8 };
}

const checkPath =
  "M0 75 Q9 69 20 70 Q33 74 46 96 C60 55 83 9 109 0 L126 1 Q100 19 80 57 Q62 95 49 144 Q29 102 0 75 Z";

export default function App() {
  const ref = useRef<HTMLDivElement>(null);
  useEffect(() => {
    document.body.style.margin = "0";
    document.body.style.background = PAGE;
    echarts.graphic.registerShape("tick-mark", echarts.graphic.extendPath(checkPath, {}) as any);
    const chart = echarts.init(ref.current!, null, { renderer: "svg" });

    const blue = hatch("#4a4aff", 0.2, 0.95);
    const orange = hatch("#ff9408", 0.3, 1);
    const red = hatch("#e4000a", 0.42, 1);
    const txt = { fontFamily: FONT, fill: "#000" };
    const mk = (type: string, extra: any) => ({ type, z: 100, silent: true, ...extra });
    const t = (text: string, x: number, y: number, fontSize: number, extra: any = {}) =>
      mk("text", { x, y, z: 101, ...extra, style: { text, fontSize, ...txt, align: "left", verticalAlign: "middle" } });
    const box = (x: number, y: number, w: number, h: number, fill: any, lw = 2) =>
      mk("rect", { shape: { x, y, width: w, height: h }, style: { fill, stroke: "#000", lineWidth: lw } });
    const UP = Math.PI / 2;

    const graphicEls: any[] = [
      // left legend
      box(501, 82, 699, 239, PAGE),
      box(527, 99, 123, 84, blue),
      box(527, 219, 123, 84, orange),
      t("Detectors rejected by", 676, 136, 34),
      t("Δχ", 1012, 136, 34),
      t("2", 1052, 122, 20),
      t("OF", 1050, 148, 20),
      t("cut", 1090, 136, 34),
      t("Detectors rejected by Purity cut", 676, 257, 34),
      // right legend
      box(2066, 71, 562, 181, PAGE),
      box(2087, 98, 99, 127, red),
      t("Events rejected by", 2208, 153, 31),
      t("χ", 2480, 157, 31),
      t("2", 2497, 148, 19),
      t("OF", 2497, 175, 19),
      t("cut", 2536, 153, 31),
      // axis titles of the y axes
      t("Δχ", 130, 177, 68, { rotation: UP }),
      t("2", 111, 107, 40, { rotation: UP }),
      t("OF", 168, 105, 42, { rotation: UP }),
      t("χ", 1437, 138, 68, { rotation: UP }),
      t("2", 1414, 106, 40, { rotation: UP }),
      t("OF", 1466, 104, 42, { rotation: UP }),
      // check mark and annotations
      mk("tick-mark", { x: 2501, y: 604, style: { fill: "#00ee00" } }),
      t("[1]", 1127, 754, 81),
      t("[1]", 2547, 747, 83),
    ];

    const LW = 2;
    const black = { color: "#000", width: LW };
    const baseLabel = { color: "#000", fontFamily: FONT };
    const frameAxis = (gridIndex: number, position: string, min: number, max: number, type = "value", extra: any = {}) => ({
      type, gridIndex, position, min, max,
      axisLine: { show: true, onZero: false, lineStyle: black },
      axisTick: { show: false }, axisLabel: { show: false }, splitLine: { show: false }, ...extra,
    });

    const region = (name: string, data: number[][], fill: any, xAxisIndex: number, yAxisIndex: number) => ({
      type: "custom", name, xAxisIndex, yAxisIndex, z: 5, clip: false, silent: true, data,
      encode: { x: [0, 2], y: [1, 3] },
      renderItem: (_p: any, api: any) => {
        const a = api.coord([api.value(0), api.value(3)]);
        const b = api.coord([api.value(2), api.value(1)]);
        return { type: "rect", shape: { x: a[0], y: a[1], width: b[0] - a[0], height: b[1] - a[1] }, style: { fill } };
      },
    });

    chart.setOption({
      animation: false,
      backgroundColor: PAGE,
      grid: [
        { left: 274, top: 50, width: 962, height: 775, containLabel: false, outerBoundsMode: "none" },
        { left: 1548, top: 50, width: 1110, height: 755, containLabel: false, outerBoundsMode: "none" },
      ],
      xAxis: [
        {
          type: "value", gridIndex: 0, min: 0, max: 0.8, interval: 0.1, position: "bottom",
          name: "Purity", nameLocation: "end", nameGap: 0,
          nameTextStyle: { ...baseLabel, fontSize: 60, align: "right", verticalAlign: "top", padding: [70, 0, 0, 0] },
          axisLine: { show: true, onZero: false, lineStyle: { color: "#000", width: 3 } },
          axisTick: { show: true, inside: true, length: 26, lineStyle: black },
          minorTick: { show: true, splitNumber: 5, length: 12, lineStyle: black },
          axisLabel: { ...baseLabel, fontSize: 50, margin: 10, showMinLabel: true, showMaxLabel: true },
          splitLine: { show: true, lineStyle: { color: "#000", width: 2, type: [2.5, 4.5] } },
        },
        frameAxis(0, "top", 0, 0.8),
        {
          type: "value", gridIndex: 1, min: 10, max: 50, interval: 5, position: "bottom",
          name: "Energy [keV]", nameLocation: "end", nameGap: 0,
          nameTextStyle: { ...baseLabel, fontSize: 60, align: "right", verticalAlign: "top", padding: [58, 0, 0, 0] },
          axisLine: { show: true, onZero: false, lineStyle: { color: "#000", width: 3 } },
          axisTick: { show: true, inside: true, length: 23, lineStyle: black },
          minorTick: { show: true, splitNumber: 5, length: 12, lineStyle: black },
          axisLabel: { ...baseLabel, fontSize: 46, lineHeight: 40, margin: 15, showMinLabel: true, showMaxLabel: true },
          splitLine: { show: false },
        },
        frameAxis(1, "top", 10, 50),
      ],
      yAxis: [
        {
          type: "value", gridIndex: 0, min: -0.4, max: 3.9, interval: 0.1, position: "left",
          axisLine: { show: true, onZero: false, lineStyle: { color: "#000", width: 3 } },
          axisTick: { show: true, inside: true, length: 15, lineStyle: black },
          axisLabel: { show: false }, splitLine: { show: false },
        },
        {
          type: "value", gridIndex: 0, min: -0.4, max: 3.9, position: "left",
          axisLine: { show: false },
          axisTick: { show: true, inside: true, length: 31, lineStyle: black, customValues: purityTicks },
          axisLabel: { ...baseLabel, fontSize: 50, margin: 8, customValues: purityTicks },
          splitLine: { show: true, lineStyle: { color: "#000", width: 2, type: [2.5, 4.5] } },
        },
        frameAxis(0, "right", -0.4, 3.9),
        {
          type: "log", gridIndex: 1, min: 0.15, max: 500, logBase: 10, position: "left",
          axisLine: { show: true, onZero: false, lineStyle: { color: "#000", width: 3 } },
          axisTick: { show: true, inside: true, length: 33, lineStyle: black, customValues: [1, 10, 100] },
          axisLabel: {
            ...baseLabel, fontSize: 46, margin: 14, customValues: [1, 10, 100], padding: [10, 0, 0, 0],
            formatter: (v: number) => (v >= 99 ? "10{sup|2}" : String(Math.round(v))),
            rich: { sup: { ...baseLabel, fontSize: 30, padding: [0, 0, 22, 0] } },
          },
          splitLine: { show: false },
        },
        {
          type: "log", gridIndex: 1, min: 0.15, max: 500, logBase: 10, position: "left",
          axisLine: { show: false },
          axisTick: { show: true, inside: true, length: 16, lineStyle: black, customValues: energyMinorTicks },
          axisLabel: { show: false }, splitLine: { show: false },
        },
        frameAxis(1, "right", 0.15, 500, "log", { logBase: 10 }),
      ],
      graphic: graphicEls,
      series: [
        {
          type: "scatter", name: "Detectors", xAxisIndex: 0, yAxisIndex: 0, z: 2, clip: false, silent: true,
          symbolSize: 7.5, itemStyle: { color: "#000", opacity: 1 }, data: leftPoints,
        },
        region("Rejected by Purity", orangeRegion, orange, 0, 0),
        region("Rejected by delta chi2", blueRegion, blue, 0, 0),
        {
          type: "scatter", name: "Events", xAxisIndex: 2, yAxisIndex: 3, z: 2, clip: false, silent: true,
          symbolSize: 12, itemStyle: { color: "#000", opacity: 1 }, data: rightPoints,
        },
        region("Rejected by chi2", chiRegion, red, 2, 3),
      ],
    });
    return () => chart.dispose();
  }, []);
  return <div ref={ref} style={{ position: "absolute", left: 0, top: 0, width: 2726, height: 956 }} />;
}
